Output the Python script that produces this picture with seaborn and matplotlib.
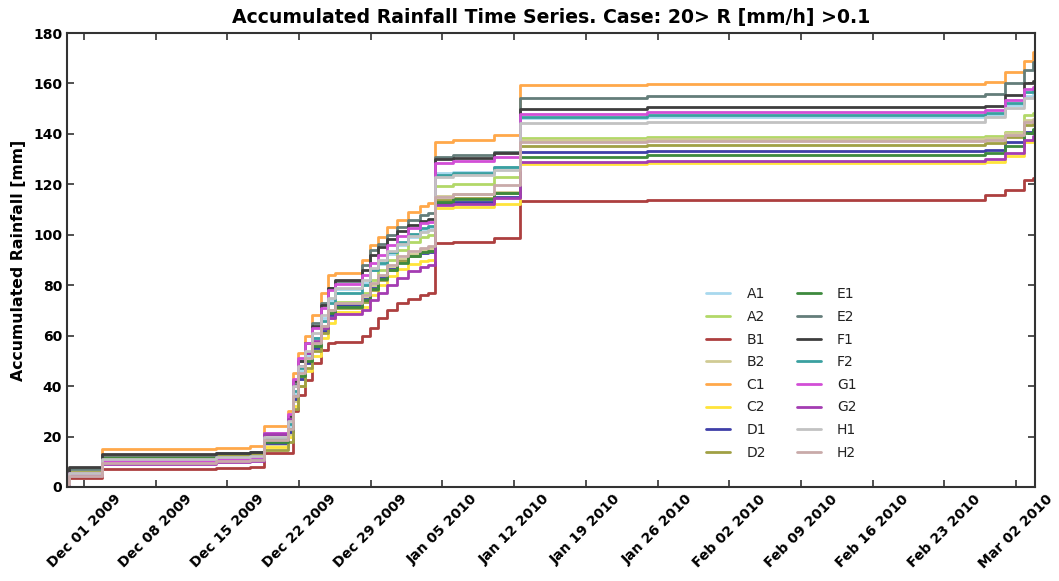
import numpy as np
import pandas as pd
import matplotlib
matplotlib.use("Agg")
import matplotlib.pyplot as plt
import matplotlib.dates as mdates
import seaborn as sns

# ---------------- data ----------------
START_DATE = "2009-12-01 00:00"
# event times, days relative to START_DATE
EVENT_DAYS = [-1.66, -1.45, 1.72, 12.9, 16.2, 17.6, 19.95, 20.4, 20.9, 21.6,
              22.3, 23.1, 23.8, 24.5, 27.1, 27.9, 28.7, 29.6, 30.6, 31.6,
              32.8, 33.6, 34.3, 36.0, 40.0, 42.6, 55.0, 88.0, 89.9, 91.8,
              92.7, 92.85]

STATIONS = ["A1", "A2", "B1", "B2", "C1", "C2", "D1", "D2",
            "E1", "E2", "F1", "F2", "G1", "G2", "H1", "H2"]

A1 = [1.0, 5.2, 10.8, 11.5, 12.0, 19.0, 24, 37, 46, 52, 59, 67, 74, 78.5, 81, 86,
      88.5, 92.5, 96, 99, 101.5, 102.5, 124.3, 125, 127, 146.2, 146.7, 147.5, 151.5, 155, 155.8, 155.8]
A2 = [1.0, 5.0, 11.5, 12.2, 12.8, 17.5, 22, 35, 44, 50, 57, 64, 70, 73.5, 77, 82,
      86, 90, 94, 97, 99.2, 99.9, 119.3, 120, 123, 138.5, 138.9, 139.2, 140.9, 147.5, 148.3, 148.3]
B1 = [1.0, 3.5, 7.0, 7.5, 8.0, 13.4, 13.6, 30, 36.5, 42.4, 49, 54.3, 57, 57.6, 60, 63,
      67, 70.2, 73, 74.5, 76, 76.8, 96.6, 97, 98.6, 113.5, 113.8, 115.8, 117.8, 121.7, 122.5, 122.5]
B2 = [1.0, 5.5, 11.8, 12.5, 13.0, 17.0, 21, 34, 43, 50, 56, 63, 69, 72.5, 75, 80,
      83.5, 87, 90.5, 92.5, 94, 94.6, 115.5, 116, 117, 137.6, 137.9, 138.2, 140.2, 145.5, 146, 146]
C1 = [1.0, 7.5, 14.9, 15.6, 16.2, 24.2, 30, 45, 53, 60, 68, 77, 84, 85, 90, 96,
      99, 103, 106, 109, 111.5, 112.6, 136.9, 137.5, 139.5, 159.4, 159.8, 160.5, 164.4, 169, 172.5, 172.5]
C2 = [1.0, 4.5, 10.8, 11.4, 11.9, 16.0, 20, 32, 40, 46, 52, 59, 65, 69.5, 71.5, 76,
      80, 83.5, 86.5, 88.5, 89.5, 90, 110.5, 111, 112.2, 128, 128.4, 129, 131.2, 136.6, 137.5, 137.5]
D1 = [1.0, 4.8, 10.0, 10.7, 11.2, 17.5, 22, 35, 43, 49, 55, 62, 68, 72, 74.5, 79,
      83, 86.5, 89.5, 91.5, 92.8, 93.3, 112.5, 113, 115.1, 132.8, 133.2, 133.6, 136.9, 140.9, 141.5, 141.5]
D2 = [1.0, 6.0, 12.0, 12.6, 13.0, 14.7, 18, 31, 40, 47, 54, 61, 67, 71, 73.5, 78,
      82, 86, 89.5, 91.5, 93, 93.5, 113.8, 114.5, 116.5, 135.2, 135.6, 136.3, 138.9, 143.5, 144.5, 144.5]
E1 = [1.0, 5.5, 11.3, 11.9, 12.4, 18.0, 23, 36, 44, 50, 56, 63, 69, 71.5, 74, 78.5,
      82.5, 86, 89, 91.5, 93, 93.5, 113.1, 114, 116.4, 131, 131.5, 132.3, 135, 140.2, 142, 142]
E2 = [1.5, 7.0, 12.6, 13.3, 13.8, 21.5, 27, 41, 50, 57, 65, 73, 79, 81.5, 88, 94,
      96.5, 100, 103, 106, 108, 108.8, 131, 131.5, 133, 154.3, 155, 155.8, 160.3, 165.3, 168.5, 168.5]
F1 = [2.0, 8.0, 12.9, 13.5, 14.0, 21.0, 28, 42, 50, 57, 64, 72, 79, 82, 86, 92,
      95, 98.5, 101.5, 104, 105.5, 106.1, 130, 130.5, 132.6, 150, 150.5, 151, 155.4, 160, 161, 161]
F2 = [1.0, 5.0, 10.2, 10.9, 11.5, 19.5, 25, 38, 47, 53, 59, 66, 73, 77, 80, 86,
      89, 93, 97, 100.5, 102.5, 103.5, 123.7, 124.5, 126.8, 146.8, 147.3, 148.4, 152.4, 156.7, 157.3, 157.3]
G1 = [1.0, 5.5, 10.5, 11.2, 11.8, 21.3, 29, 43, 51, 57, 63, 71, 78, 80.5, 84, 89,
      92, 96, 99.5, 102.5, 104.5, 105.2, 128.5, 129.2, 131, 147.9, 148.5, 149.5, 153.4, 157.7, 158.5, 158.5]
G2 = [1.0, 4.2, 9.3, 10.0, 10.5, 21.0, 27, 40, 48, 53, 58, 63, 67, 68.5, 70, 74,
      77, 80, 83, 85.5, 87.3, 88, 111.8, 112.3, 114.5, 128.9, 129.3, 129.9, 132.3, 137.6, 139, 139]
H1 = [1.0, 5.5, 11.0, 11.7, 12.2, 20.0, 26, 40, 48, 54, 61, 68, 75, 79, 82, 87,
      90, 93.5, 96.5, 99.5, 101.2, 101.9, 123, 123.6, 125.7, 144.2, 144.8, 146.8, 150.2, 154.1, 154.8, 154.8]
H2 = [1.0, 4.5, 9.5, 10.2, 10.8, 18.5, 23, 36, 45, 51, 57, 64, 70, 73, 76, 81,
      84, 88, 91.5, 93.5, 94.8, 95.5, 115.1, 116, 119.7, 136.9, 137.2, 137.6, 139.6, 144.9, 145.5, 145.5]

COLORS = ["#a8d8ee", "#b2d868", "#ad3f3f", "#d0cb94", "#ffa84a", "#ffe43a",
          "#3f3fa8", "#a0a044", "#3d8a3d", "#647d7a", "#3e3e3e", "#3aa0a0",
          "#d24ed6", "#a43cb2", "#c2c2c2", "#c9aaa9"]

TITLE = "Accumulated Rainfall Time Series. Case: 20> R [mm/h] >0.1"
YLABEL = "Accumulated Rainfall [mm]"
Y_TICKS = [0, 20, 40, 60, 80, 100, 120, 140, 160, 180]

# ---------------- build table ----------------
series = dict(A1=A1, A2=A2, B1=B1, B2=B2, C1=C1, C2=C2, D1=D1, D2=D2,
              E1=E1, E2=E2, F1=F1, F2=F2, G1=G1, G2=G2, H1=H1, H2=H2)
times = pd.Timestamp(START_DATE) + pd.to_timedelta(EVENT_DAYS, unit="D")
rows = []
for name in STATIONS:
    for t, v in zip(times, series[name]):
        rows.append((t, v, name))
df = pd.DataFrame(rows, columns=["time", "rain", "station"])
palette = dict(zip(STATIONS, COLORS))

# ---------------- plot ----------------
sns.set_style("ticks")
plt.rcParams["font.family"] = ["DejaVu Sans"]
plt.rcParams["text.color"] = "black"
plt.rcParams["axes.labelcolor"] = "black"
plt.rcParams["xtick.labelcolor"] = "black"
plt.rcParams["ytick.labelcolor"] = "black"

fig = plt.figure(figsize=(10.59, 5.81), dpi=100)
ax = fig.add_axes([0.0633, 0.1618, 0.9140, 0.7814])

sns.lineplot(data=df, x="time", y="rain", hue="station", hue_order=STATIONS,
             palette=palette, estimator=None, sort=True, linewidth=2.0,
             drawstyle="steps-post", ax=ax, legend=True)

ax.set_xlim(times[0], times[-1])
ax.set_ylim(0, 180)
ax.set_yticks(Y_TICKS)
ax.xaxis.set_major_locator(mdates.WeekdayLocator(byweekday=mdates.TU, interval=1))
ax.xaxis.set_major_formatter(mdates.DateFormatter("%b %d %Y"))

ax.tick_params(direction="in", length=5, width=1.2, top=True, right=True,
               labelsize=10, color="#333333", labelcolor="black")
for lab in ax.get_xticklabels():
    lab.set_rotation(45)
    lab.set_ha("center")
    lab.set_fontweight("bold")
for lab in ax.get_yticklabels():
    lab.set_fontweight("bold")
for sp in ax.spines.values():
    sp.set_visible(True)
    sp.set_color("#333333")
    sp.set_linewidth(1.5)

ax.set_xlabel("")
ax.set_ylabel(YLABEL, fontsize=11.3, fontweight="bold", labelpad=5, color="black")
ax.set_title(TITLE, fontsize=13.6, fontweight="bold", pad=7, color="black")

handles, labels = ax.get_legend_handles_labels()
leg = ax.legend(handles, labels, ncol=2, frameon=False, fontsize=10,
                loc="upper left", bbox_to_anchor=(0.655, 0.527), bbox_transform=fig.transFigure,
                handlelength=1.75, handletextpad=1.15, columnspacing=2.2, labelspacing=0.62)
for t in leg.get_texts():
    t.set_color("#222222")

fig.savefig("out.png", dpi=100)
